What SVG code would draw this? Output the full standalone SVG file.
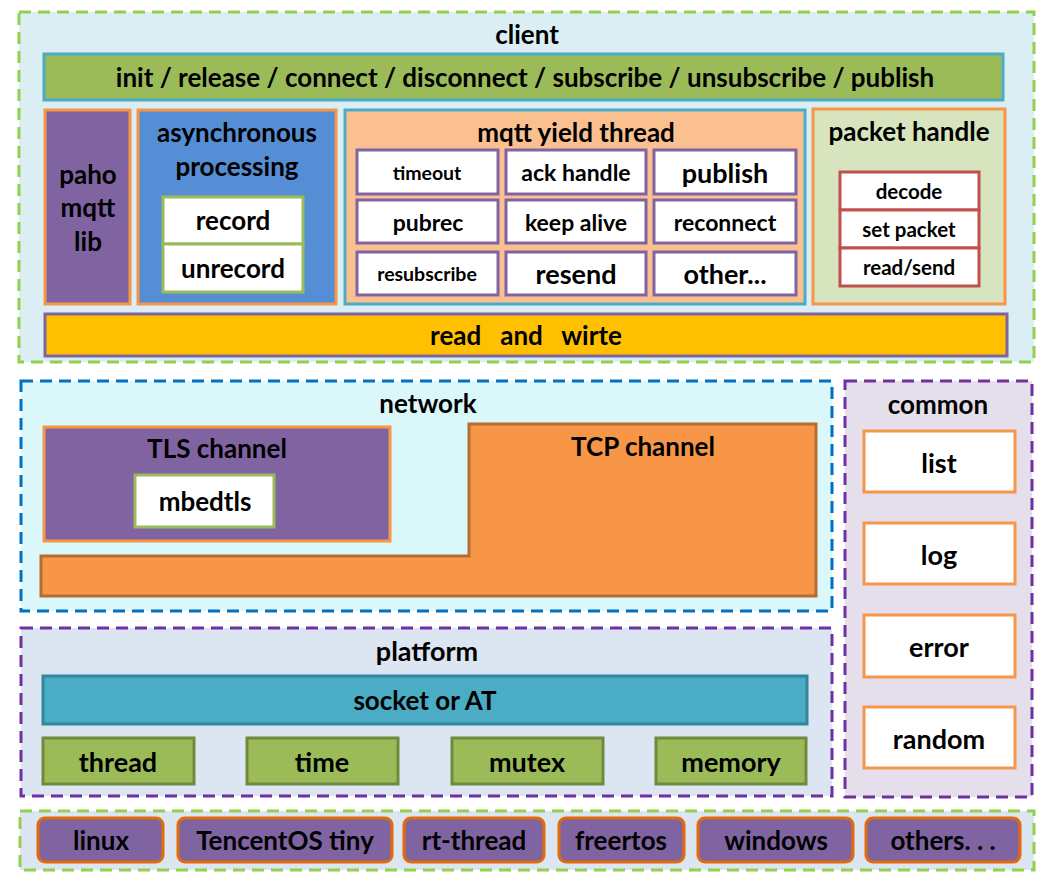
<svg xmlns="http://www.w3.org/2000/svg" width="1048" height="887" viewBox="0 0 1048 887">
<style>
text{font-family:Lato,"Liberation Sans",sans-serif;font-weight:bold;fill:#000;text-anchor:middle;dominant-baseline:central}
.dash{stroke-width:3;stroke-dasharray:12 7}
.cell{fill:#fff;stroke:#8064a2;stroke-width:3}
.rec{fill:#fff;stroke:#9bbb59;stroke-width:3}
.pk{fill:#fff;stroke:#c0504d;stroke-width:3}
.cm{fill:#fff;stroke:#f79646;stroke-width:3}
.pf{fill:#9bbb59;stroke:#71893f;stroke-width:3}
.os{fill:#8064a2;stroke:#e36c09;stroke-width:3}
.h{font-size:26px}
.b{font-size:27px}
.m{font-size:23px}
.s{font-size:19.5px}
.p{font-size:20.5px}
</style>
<rect width="1048" height="887" fill="#fff"/>

<g id="client">
<rect x="19" y="12" width="1015" height="350" fill="#daeef3" stroke="#92d050" class="dash"/>
<text x="527" y="34" class="h">client</text>
</g>
<g id="api">
<rect x="44" y="54" width="959" height="46" fill="#9bbb59" stroke="#4bacc6" stroke-width="3"/>
<text x="525" y="77" class="h">init / release / connect / disconnect / subscribe / unsubscribe / publish</text>
</g>
<g id="paho">
<rect x="45" y="110" width="85" height="194" fill="#8064a2" stroke="#f79646" stroke-width="3"/>
<text x="88" y="174" class="h">paho</text>
<text x="88" y="207" class="h">mqtt</text>
<text x="88" y="241" class="h">lib</text>
</g>
<g id="async">
<rect x="138" y="110" width="198" height="194" fill="#558ed5" stroke="#f79646" stroke-width="3"/>
<text x="237" y="132" class="h">asynchronous</text>
<text x="237" y="166" class="h">processing</text>
<rect x="163" y="197" width="140" height="47" class="rec"/>
<text x="233" y="220" class="h">record</text>
<rect x="163" y="244" width="140" height="48" class="rec"/>
<text x="233" y="268" class="h">unrecord</text>
</g>
<g id="yield">
<rect x="345" y="110" width="460" height="194" fill="#fac090" stroke="#4bacc6" stroke-width="3"/>
<text x="576" y="132" class="h">mqtt yield thread</text>
<rect x="357" y="150" width="141" height="44" class="cell"/>
<text x="427" y="172" class="s">timeout</text>
<rect x="506" y="150" width="140" height="44" class="cell"/>
<text x="576" y="172" class="m">ack handle</text>
<rect x="654" y="150" width="142" height="44" class="cell"/>
<text x="725" y="172" class="b">publish</text>
<rect x="357" y="200" width="141" height="43" class="cell"/>
<text x="428" y="222" class="m">pubrec</text>
<rect x="506" y="200" width="140" height="43" class="cell"/>
<text x="576" y="222" class="m">keep alive</text>
<rect x="654" y="200" width="142" height="43" class="cell"/>
<text x="725" y="222" class="m">reconnect</text>
<rect x="357" y="252" width="141" height="43" class="cell"/>
<text x="427" y="273" class="s">resubscribe</text>
<rect x="506" y="252" width="140" height="43" class="cell"/>
<text x="576" y="273" class="b">resend</text>
<rect x="654" y="252" width="142" height="43" class="cell"/>
<text x="725" y="273" class="b">other...</text>
</g>
<g id="packet">
<rect x="813" y="109" width="192" height="195" fill="#d7e4bd" stroke="#f79646" stroke-width="3"/>
<text x="909" y="131" class="h">packet handle</text>
<rect x="840" y="172" width="139" height="38" class="pk"/>
<text x="909" y="191" class="p">decode</text>
<rect x="840" y="210" width="139" height="38" class="pk"/>
<text x="909" y="229" class="p">set packet</text>
<rect x="840" y="248" width="139" height="38" class="pk"/>
<text x="909" y="267" class="p">read/send</text>
</g>
<g id="rw">
<rect x="45" y="314" width="962" height="42" fill="#ffc000" stroke="#8064a2" stroke-width="3"/>
<text x="526" y="335" class="h" xml:space="preserve">read   and   wirte</text>
</g>

<g id="network">
<rect x="21" y="381" width="811" height="230" fill="#daf7fa" stroke="#0070c0" class="dash"/>
<text x="428" y="403" class="h">network</text>
</g>
<g id="tcp">
<path d="M469 424 H816 V596 H41 V556 H469 Z" fill="#f79646" stroke="#b46e32" stroke-width="3"/>
<text x="643" y="446" class="h">TCP channel</text>
</g>
<g id="tls">
<rect x="44" y="427" width="346" height="114" fill="#8064a2" stroke="#f79646" stroke-width="3"/>
<text x="217" y="448" class="h">TLS channel</text>
<rect x="135" y="475" width="139" height="52" class="rec"/>
<text x="205" y="501" class="h">mbedtls</text>
</g>

<g id="common">
<rect x="845" y="381" width="187" height="416" fill="#e5dfec" stroke="#7030a0" class="dash"/>
<text x="938" y="404" class="h">common</text>
<rect x="864" y="431" width="151" height="61" class="cm"/>
<text x="939" y="462" class="b">list</text>
<rect x="864" y="523" width="151" height="61" class="cm"/>
<text x="939" y="554" class="b">log</text>
<rect x="864" y="615" width="151" height="62" class="cm"/>
<text x="939" y="646" class="b">error</text>
<rect x="864" y="707" width="151" height="61" class="cm"/>
<text x="939" y="738" class="b">random</text>
</g>

<g id="platform">
<rect x="21" y="628" width="811" height="168" fill="#dce6f2" stroke="#7030a0" class="dash"/>
<text x="427" y="650" class="b">platform</text>
<rect x="43" y="676" width="764" height="48" fill="#4bacc6" stroke="#31859c" stroke-width="3"/>
<text x="425" y="700" class="h">socket or AT</text>
<rect x="43" y="738" width="151" height="46" class="pf"/>
<text x="118" y="761" class="b">thread</text>
<rect x="247" y="738" width="151" height="46" class="pf"/>
<text x="322" y="761" class="b">time</text>
<rect x="452" y="738" width="151" height="46" class="pf"/>
<text x="527" y="761" class="b">mutex</text>
<rect x="656" y="738" width="150" height="46" class="pf"/>
<text x="731" y="761" class="b">memory</text>
</g>

<g id="os">
<rect x="20" y="811" width="1014" height="59" fill="#dce6f2" stroke="#92d050" class="dash"/>
<rect x="38" y="818" width="125" height="44" rx="7" class="os"/>
<text x="101" y="840" class="h">linux</text>
<rect x="178" y="818" width="214" height="44" rx="7" class="os"/>
<text x="285" y="840" class="h">TencentOS tiny</text>
<rect x="404" y="818" width="140" height="44" rx="7" class="os"/>
<text x="474" y="840" class="h">rt-thread</text>
<rect x="559" y="818" width="125" height="44" rx="7" class="os"/>
<text x="621" y="840" class="h">freertos</text>
<rect x="698" y="818" width="155" height="44" rx="7" class="os"/>
<text x="776" y="840" class="h">windows</text>
<rect x="866" y="818" width="154" height="44" rx="7" class="os"/>
<text x="943" y="840" class="h">others. . .</text>
</g>
<g id="connectors"/>
</svg>
